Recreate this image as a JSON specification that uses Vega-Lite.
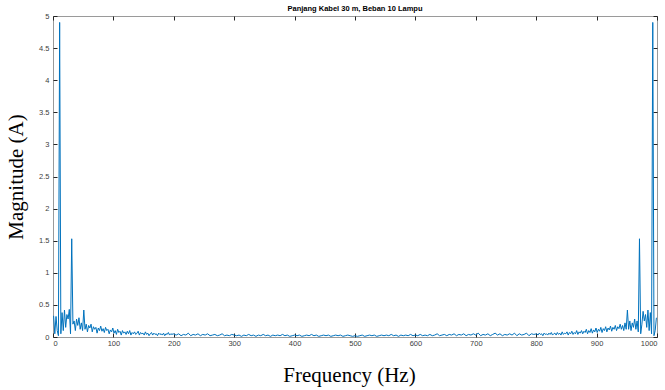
{
 "$schema": "https://vega.github.io/schema/vega-lite/v6.json",
 "width": 604, "height": 321,
 "autosize": "none",
 "padding": {"left": 53, "top": 16, "right": 8, "bottom": 53},
 "config": {"view": {"stroke": "#9a9a9a", "strokeWidth": 1}, "font": "Liberation Sans"},
 "title": {"text": "Panjang Kabel 30 m, Beban 10 Lampu", "fontSize": 7.5, "fontWeight": "bold", "font": "Liberation Sans", "color": "#000", "offset": 0, "anchor": "middle"},
 "data": {"values": [
{"f":1,"m":0.33},{"f":3,"m":0.05},{"f":5,"m":0.32},{"f":7,"m":0.1},{"f":9,"m":0.02},{"f":11,"m":4.9},{"f":13,"m":0.05},{"f":15,"m":0.38},{"f":17,"m":0.1},{"f":19,"m":0.42},{"f":21,"m":0.15},{"f":23,"m":0.35},{"f":25,"m":0.28},{"f":27,"m":0.43},{"f":29,"m":0.05},{"f":31,"m":1.53},{"f":33,"m":0.2},{"f":35,"m":0.25},{"f":37,"m":0.1},{"f":39,"m":0.28},{"f":41,"m":0.18},{"f":43,"m":0.3},{"f":45,"m":0.12},{"f":47,"m":0.22},{"f":49,"m":0.1},{"f":51,"m":0.42},{"f":53,"m":0.12},{"f":55,"m":0.2},{"f":57,"m":0.08},{"f":59,"m":0.18},{"f":61,"m":0.14},{"f":63,"m":0.2},{"f":65,"m":0.08},{"f":67,"m":0.16},{"f":69,"m":0.12},{"f":71,"m":0.15},{"f":73,"m":0.06},{"f":75,"m":0.14},{"f":77,"m":0.1},{"f":79,"m":0.17},{"f":81,"m":0.09},{"f":83,"m":0.13},{"f":85,"m":0.07},{"f":87,"m":0.15},{"f":89,"m":0.1},{"f":91,"m":0.12},{"f":93,"m":0.05},{"f":95,"m":0.11},{"f":97,"m":0.08},{"f":99,"m":0.14},
{"f":101,"m":0.06},{"f":103,"m":0.1},{"f":105,"m":0.04},{"f":107,"m":0.12},{"f":109,"m":0.07},{"f":111,"m":0.09},{"f":113,"m":0.03},{"f":115,"m":0.1},{"f":117,"m":0.06},{"f":119,"m":0.08},{"f":121,"m":0.04},{"f":123,"m":0.09},{"f":125,"m":0.05},{"f":127,"m":0.1},{"f":129,"m":0.03},{"f":131,"m":0.07},{"f":133,"m":0.05},{"f":135,"m":0.08},{"f":137,"m":0.04},{"f":139,"m":0.06},{"f":141,"m":0.09},{"f":143,"m":0.03},{"f":145,"m":0.07},{"f":147,"m":0.05},{"f":149,"m":0.06},{"f":151,"m":0.03},{"f":153,"m":0.08},{"f":155,"m":0.04},{"f":157,"m":0.06},{"f":159,"m":0.02},{"f":161,"m":0.05},{"f":163,"m":0.07},{"f":165,"m":0.03},{"f":167,"m":0.06},{"f":169,"m":0.04},{"f":171,"m":0.05},{"f":173,"m":0.02},{"f":175,"m":0.06},{"f":177,"m":0.04},{"f":179,"m":0.05},{"f":181,"m":0.03},{"f":183,"m":0.06},{"f":185,"m":0.02},{"f":187,"m":0.05},{"f":189,"m":0.04},{"f":191,"m":0.07},{"f":193,"m":0.03},{"f":195,"m":0.05},{"f":197,"m":0.04},{"f":199,"m":0.05},
{"f":204,"m":0.03},{"f":208,"m":0.05},{"f":212,"m":0.02},{"f":216,"m":0.04},{"f":220,"m":0.03},{"f":224,"m":0.06},{"f":228,"m":0.02},{"f":232,"m":0.04},{"f":236,"m":0.03},{"f":240,"m":0.05},{"f":244,"m":0.02},{"f":248,"m":0.04},{"f":252,"m":0.03},{"f":256,"m":0.05},{"f":260,"m":0.02},{"f":264,"m":0.03},{"f":268,"m":0.04},{"f":272,"m":0.02},{"f":276,"m":0.03},{"f":280,"m":0.05},{"f":284,"m":0.02},{"f":288,"m":0.03},{"f":292,"m":0.02},{"f":296,"m":0.04},{"f":300,"m":0.03},{"f":304,"m":0.02},{"f":308,"m":0.03},{"f":312,"m":0.01},{"f":316,"m":0.03},{"f":320,"m":0.02},{"f":324,"m":0.04},{"f":328,"m":0.02},{"f":332,"m":0.03},{"f":336,"m":0.01},{"f":340,"m":0.03},{"f":344,"m":0.02},{"f":348,"m":0.04},{"f":352,"m":0.02},{"f":356,"m":0.03},{"f":360,"m":0.01},{"f":364,"m":0.03},{"f":368,"m":0.02},{"f":372,"m":0.03},{"f":376,"m":0.02},{"f":380,"m":0.04},{"f":384,"m":0.02},{"f":388,"m":0.03},{"f":392,"m":0.01},{"f":396,"m":0.02},{"f":400,"m":0.03},
{"f":404,"m":0.02},{"f":408,"m":0.03},{"f":412,"m":0.01},{"f":416,"m":0.02},{"f":420,"m":0.03},{"f":424,"m":0.02},{"f":428,"m":0.04},{"f":432,"m":0.02},{"f":436,"m":0.03},{"f":440,"m":0.01},{"f":444,"m":0.02},{"f":448,"m":0.03},{"f":452,"m":0.02},{"f":456,"m":0.03},{"f":460,"m":0.01},{"f":464,"m":0.02},{"f":468,"m":0.03},{"f":472,"m":0.02},{"f":476,"m":0.03},{"f":480,"m":0.01},{"f":484,"m":0.02},{"f":488,"m":0.03},{"f":492,"m":0.02},{"f":496,"m":0.01},{"f":500,"m":0.02},{"f":504,"m":0.01},{"f":508,"m":0.02},{"f":512,"m":0.03},{"f":516,"m":0.01},{"f":520,"m":0.02},{"f":524,"m":0.03},{"f":528,"m":0.02},{"f":532,"m":0.03},{"f":536,"m":0.01},{"f":540,"m":0.02},{"f":544,"m":0.03},{"f":548,"m":0.02},{"f":552,"m":0.03},{"f":556,"m":0.02},{"f":560,"m":0.04},{"f":564,"m":0.02},{"f":568,"m":0.03},{"f":572,"m":0.01},{"f":576,"m":0.03},{"f":580,"m":0.02},{"f":584,"m":0.03},{"f":588,"m":0.02},{"f":592,"m":0.04},{"f":596,"m":0.02},{"f":600,"m":0.03},
{"f":604,"m":0.02},{"f":608,"m":0.04},{"f":612,"m":0.02},{"f":616,"m":0.03},{"f":620,"m":0.02},{"f":624,"m":0.04},{"f":628,"m":0.02},{"f":632,"m":0.03},{"f":636,"m":0.05},{"f":640,"m":0.02},{"f":644,"m":0.03},{"f":648,"m":0.04},{"f":652,"m":0.02},{"f":656,"m":0.04},{"f":660,"m":0.03},{"f":664,"m":0.05},{"f":668,"m":0.02},{"f":672,"m":0.04},{"f":676,"m":0.03},{"f":680,"m":0.05},{"f":684,"m":0.02},{"f":688,"m":0.04},{"f":692,"m":0.03},{"f":696,"m":0.05},{"f":700,"m":0.03},{"f":704,"m":0.06},{"f":708,"m":0.02},{"f":712,"m":0.04},{"f":716,"m":0.03},{"f":720,"m":0.05},{"f":724,"m":0.02},{"f":728,"m":0.04},{"f":732,"m":0.06},{"f":736,"m":0.03},{"f":740,"m":0.05},{"f":744,"m":0.02},{"f":748,"m":0.04},{"f":752,"m":0.03},{"f":756,"m":0.05},{"f":760,"m":0.03},{"f":764,"m":0.06},{"f":768,"m":0.02},{"f":772,"m":0.05},{"f":776,"m":0.03},{"f":780,"m":0.04},{"f":784,"m":0.06},{"f":788,"m":0.02},{"f":792,"m":0.05},{"f":796,"m":0.04},
{"f":801,"m":0.05},{"f":803,"m":0.03},{"f":805,"m":0.06},{"f":807,"m":0.04},{"f":809,"m":0.05},{"f":811,"m":0.02},{"f":813,"m":0.06},{"f":815,"m":0.04},{"f":817,"m":0.05},{"f":819,"m":0.03},{"f":821,"m":0.06},{"f":823,"m":0.04},{"f":825,"m":0.07},{"f":827,"m":0.03},{"f":829,"m":0.05},{"f":831,"m":0.06},{"f":833,"m":0.03},{"f":835,"m":0.07},{"f":837,"m":0.04},{"f":839,"m":0.06},{"f":841,"m":0.03},{"f":843,"m":0.08},{"f":845,"m":0.04},{"f":847,"m":0.06},{"f":849,"m":0.05},{"f":851,"m":0.08},{"f":853,"m":0.03},{"f":855,"m":0.07},{"f":857,"m":0.05},{"f":859,"m":0.09},{"f":861,"m":0.04},{"f":863,"m":0.07},{"f":865,"m":0.05},{"f":867,"m":0.1},{"f":869,"m":0.04},{"f":871,"m":0.08},{"f":873,"m":0.06},{"f":875,"m":0.1},{"f":877,"m":0.05},{"f":879,"m":0.09},{"f":881,"m":0.07},{"f":883,"m":0.12},{"f":885,"m":0.05},{"f":887,"m":0.1},{"f":889,"m":0.07},{"f":891,"m":0.13},{"f":893,"m":0.06},{"f":895,"m":0.11},{"f":897,"m":0.08},{"f":899,"m":0.14},
{"f":901,"m":0.07},{"f":903,"m":0.12},{"f":905,"m":0.09},{"f":907,"m":0.15},{"f":909,"m":0.07},{"f":911,"m":0.13},{"f":913,"m":0.1},{"f":915,"m":0.16},{"f":917,"m":0.08},{"f":919,"m":0.14},{"f":921,"m":0.11},{"f":923,"m":0.17},{"f":925,"m":0.09},{"f":927,"m":0.15},{"f":929,"m":0.12},{"f":931,"m":0.18},{"f":933,"m":0.1},{"f":935,"m":0.16},{"f":937,"m":0.13},{"f":939,"m":0.2},{"f":941,"m":0.12},{"f":943,"m":0.18},{"f":945,"m":0.1},{"f":947,"m":0.22},{"f":949,"m":0.12},{"f":951,"m":0.42},{"f":953,"m":0.12},{"f":955,"m":0.25},{"f":957,"m":0.1},{"f":959,"m":0.22},{"f":961,"m":0.15},{"f":963,"m":0.28},{"f":965,"m":0.12},{"f":967,"m":0.25},{"f":969,"m":0.08},{"f":971,"m":1.53},{"f":973,"m":0.05},{"f":975,"m":0.2},{"f":977,"m":0.4},{"f":979,"m":0.25},{"f":981,"m":0.35},{"f":983,"m":0.15},{"f":985,"m":0.42},{"f":987,"m":0.1},{"f":989,"m":0.38},{"f":991,"m":0.05},{"f":993,"m":4.9},{"f":995,"m":0.02},{"f":997,"m":0.1},{"f":999,"m":0.3}
 ]},
 "layer": [
  {"mark": {"type": "line", "color": "#0072BD", "strokeWidth": 1, "clip": true},
   "encoding": {
    "x": {"field": "f", "type": "quantitative", "scale": {"domain": [0, 1000], "nice": false, "zero": false},
      "axis": {"orient": "bottom", "title": "Frequency (Hz)", "values": [0,100,200,300,400,500,600,700,800,900,1000], "format": "d", "grid": false, "domain": false, "tickSize": -4, "tickColor": "#262626", "labelFontSize": 7.5, "labelColor": "#404040", "labelPadding": 6, "labelFont": "Liberation Sans", "titleFont": "Liberation Serif", "titleFontSize": 21, "titleFontWeight": "normal", "titleColor": "#000", "titlePadding": 18, "titleX": 296}},
    "y": {"field": "m", "type": "quantitative", "scale": {"domain": [0, 5], "nice": false},
      "axis": {"orient": "left", "title": "Magnitude (A)", "values": [0,0.5,1,1.5,2,2.5,3,3.5,4,4.5,5], "format": "~g", "grid": false, "domain": false, "tickSize": -4, "tickColor": "#262626", "labelFontSize": 7.5, "labelColor": "#404040", "labelPadding": 8, "labelFont": "Liberation Sans", "titleFont": "Liberation Serif", "titleFontSize": 21, "titleFontWeight": "normal", "titleColor": "#000", "titlePadding": 12}}
   }},
  {"mark": {"type": "line", "opacity": 0},
   "encoding": {
    "x": {"field": "f", "type": "quantitative", "axis": {"orient": "top", "title": null, "labels": false, "values": [0,100,200,300,400,500,600,700,800,900,1000], "grid": false, "domain": false, "tickSize": -4, "tickColor": "#262626"}},
    "y": {"field": "m", "type": "quantitative", "axis": {"orient": "right", "title": null, "labels": false, "values": [0,0.5,1,1.5,2,2.5,3,3.5,4,4.5,5], "grid": false, "domain": false, "tickSize": -4, "tickColor": "#262626"}}
   }}
 ],
 "resolve": {"axis": {"x": "independent", "y": "independent"}}
}
